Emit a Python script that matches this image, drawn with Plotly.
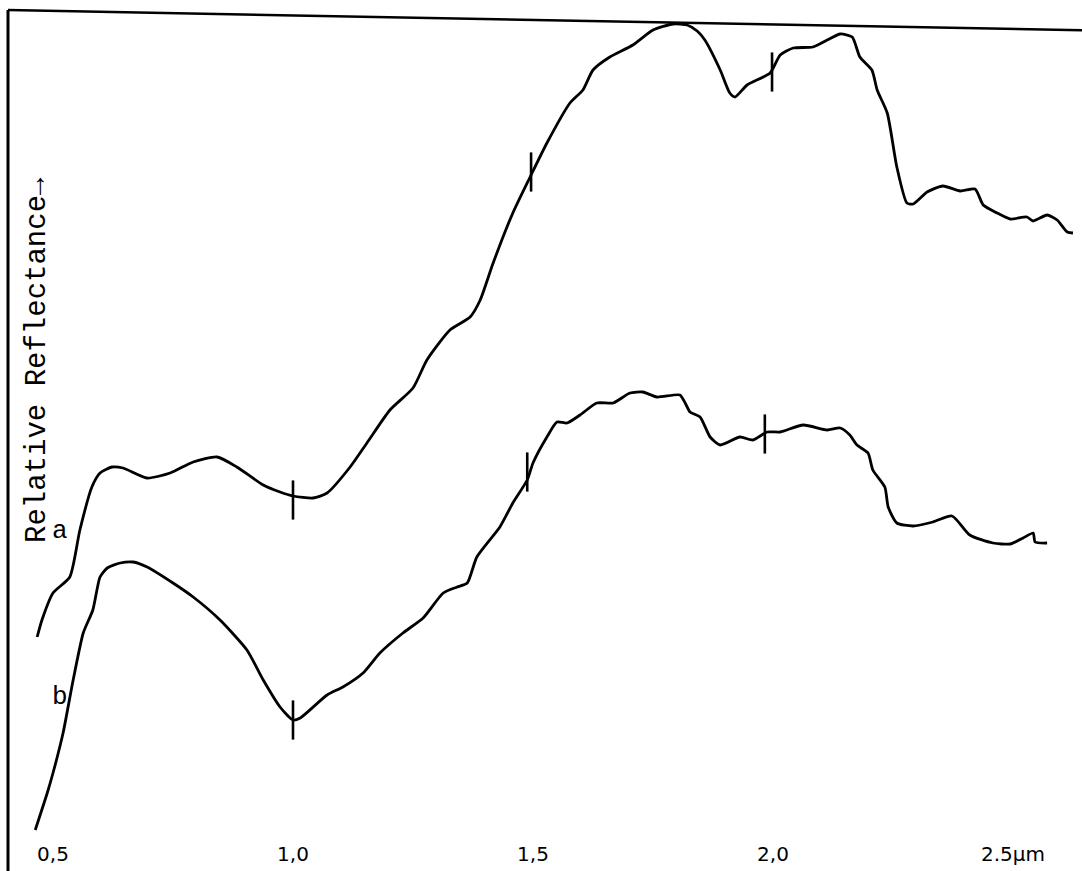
import plotly.graph_objects as go

# Wavelength (µm) and relative reflectance (arbitrary units)
wl_a = [0.467, 0.477, 0.500, 0.535, 0.556, 0.581, 0.598, 0.623, 0.646, 0.696, 0.744, 0.792,
        0.842, 0.883, 0.938, 0.973, 1.000, 1.042, 1.071, 1.119, 1.154, 1.202, 1.250, 1.279,
        1.327, 1.369, 1.390, 1.417, 1.458, 1.494, 1.529, 1.577, 1.604, 1.625, 1.660, 1.708,
        1.750, 1.792, 1.821, 1.842, 1.858, 1.890, 1.910, 1.921, 1.946, 1.994, 2.015, 2.042,
        2.083, 2.113, 2.140, 2.165, 2.181, 2.206, 2.217, 2.238, 2.258, 2.279, 2.292, 2.321,
        2.354, 2.390, 2.421, 2.438, 2.467, 2.494, 2.529, 2.542, 2.571, 2.592, 2.613, 2.625]
refl_a = [23.3, 25.0, 27.7, 29.3, 34.0, 38.3, 39.7, 40.3, 40.2, 39.2, 39.7, 40.8,
          41.3, 40.3, 38.5, 37.8, 37.4, 37.2, 37.7, 40.3, 42.7, 46.0, 48.2, 51.0,
          54.0, 55.3, 57.0, 60.7, 65.7, 69.3, 72.7, 76.7, 78.0, 80.0, 81.3, 82.5,
          84.0, 84.6, 84.5, 83.9, 83.0, 80.0, 77.7, 77.3, 78.5, 79.7, 81.5, 82.2,
          82.3, 83.0, 83.6, 83.3, 81.3, 80.0, 78.0, 75.7, 70.3, 66.7, 66.6, 67.8,
          68.4, 67.9, 68.1, 66.5, 65.7, 65.1, 65.3, 64.9, 65.5, 65.0, 63.8, 63.7]

wl_b = [0.463, 0.488, 0.500, 0.521, 0.542, 0.563, 0.583, 0.598, 0.613, 0.640, 0.667, 0.696,
        0.750, 0.792, 0.848, 0.904, 0.938, 0.973, 1.000, 1.015, 1.071, 1.104, 1.146, 1.181,
        1.229, 1.271, 1.313, 1.342, 1.363, 1.383, 1.431, 1.458, 1.488, 1.500, 1.529, 1.550,
        1.571, 1.598, 1.633, 1.667, 1.702, 1.729, 1.758, 1.806, 1.817, 1.827, 1.848, 1.869,
        1.890, 1.931, 1.958, 1.988, 2.015, 2.063, 2.113, 2.140, 2.160, 2.175, 2.198, 2.208,
        2.233, 2.240, 2.258, 2.292, 2.333, 2.373, 2.410, 2.458, 2.494, 2.521, 2.542, 2.546,
        2.571]
refl_b = [4.0, 7.7, 9.7, 13.7, 19.0, 23.7, 26.0, 29.3, 30.2, 30.7, 30.8, 30.3,
          28.7, 27.3, 25.0, 22.0, 19.0, 16.3, 15.0, 15.2, 17.5, 18.3, 19.7, 21.7,
          23.7, 25.2, 27.7, 28.3, 28.7, 31.3, 34.3, 36.7, 39.0, 40.7, 43.3, 44.8,
          44.7, 45.5, 46.7, 46.7, 47.7, 47.8, 47.3, 47.5, 46.7, 45.8, 45.3, 43.3,
          42.5, 43.3, 43.0, 43.8, 43.8, 44.5, 44.0, 44.2, 43.5, 42.5, 41.7, 40.0,
          38.3, 36.3, 34.7, 34.4, 34.8, 35.4, 33.5, 32.7, 32.6, 33.2, 33.7, 32.8,
          32.7]

# Wavelength tick marks drawn across each curve
mark_wl_a = [1.000, 1.496, 1.998]
mark_refl_a = [37.0, 69.8, 79.8]
mark_wl_b = [1.000, 1.488, 1.983]
mark_refl_b = [15.0, 39.8, 43.6]

tick_vals = [0.5, 1.0, 1.5, 2.0, 2.5]
tick_text = ["0,5", "1,0", "1,5", "2,0", "2.5µm"]

curve_labels = ["a", "b"]
label_wl = [0.514, 0.514]
label_refl = [33.9, 17.3]

fig = go.Figure()
line_style = dict(color="black", width=2.8, shape="spline", smoothing=0.6)
fig.add_trace(go.Scatter(x=wl_a, y=refl_a, mode="lines", line=line_style, name="a"))
fig.add_trace(go.Scatter(x=wl_b, y=refl_b, mode="lines", line=line_style, name="b"))
fig.add_trace(go.Scatter(
    x=mark_wl_a + mark_wl_b, y=mark_refl_a + mark_refl_b, mode="markers",
    marker=dict(symbol="line-ns", size=28, line=dict(color="black", width=2.6)),
    name="marks"))
fig.add_trace(go.Scatter(
    x=label_wl, y=label_refl, mode="text", text=curve_labels,
    textfont=dict(family="Liberation Mono", size=26, color="black"),
    name="labels"))

# Hand-drawn frame: left edge and slightly slanted top edge
fig.add_shape(type="line", xref="paper", yref="paper", x0=0, x1=0, y0=0.988, y1=-0.04,
              line=dict(color="black", width=3))
fig.add_shape(type="line", xref="paper", yref="paper", x0=0, x1=1, y0=0.988, y1=0.964,
              line=dict(color="black", width=2.5))

fig.add_annotation(text="Relative Reflectance→", xref="paper", yref="y",
                   x=0.027, y=51.0, xanchor="center", yanchor="middle",
                   textangle=-90, showarrow=False,
                   font=dict(family="Liberation Mono", size=29, color="black"))

fig.update_layout(
    width=1082, height=871,
    margin=dict(l=8, r=0, t=0, b=31),
    paper_bgcolor="white", plot_bgcolor="white",
    showlegend=False,
    xaxis=dict(range=[0.40625, 2.64375], tickvals=tick_vals, ticktext=tick_text,
               showgrid=False, zeroline=False, showline=False, ticks="",
               tickfont=dict(family="DejaVu Sans", size=20, color="black")),
    yaxis=dict(range=[3, 87], showgrid=False, zeroline=False, showline=False,
               showticklabels=False, ticks=""),
)

fig.write_html("out.html")
